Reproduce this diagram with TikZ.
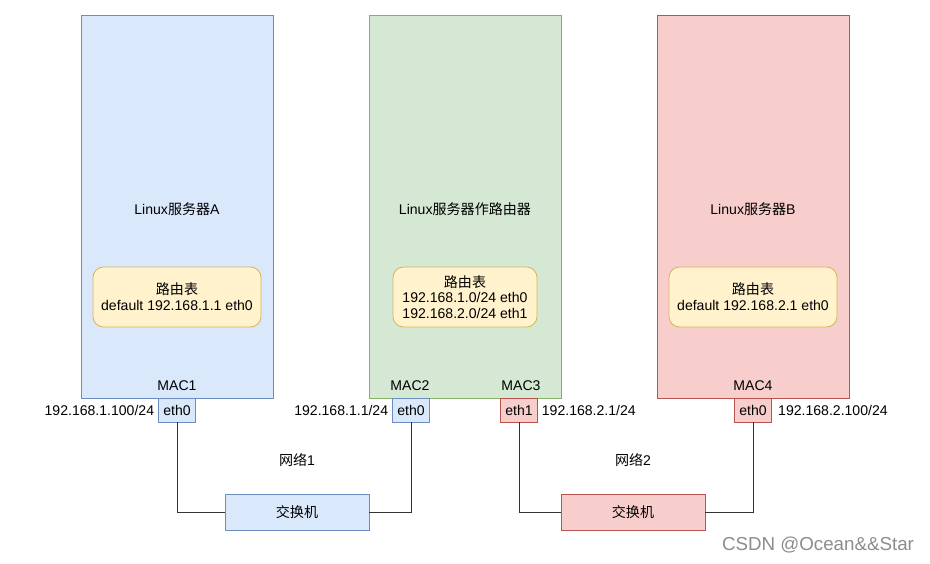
\documentclass[tikz,border=0pt]{standalone}
\usepackage{fontspec}
\setmainfont{Liberation Sans}
\newfontfamily\cjk{Noto Sans CJK SC}
\newcommand{\zh}[1]{{\cjk #1}}
\usetikzlibrary{positioning}

\definecolor{blueFill}{HTML}{DAE8FC}
\definecolor{blueLine}{HTML}{6C8EBF}
\definecolor{greenFill}{HTML}{D5E8D4}
\definecolor{greenLine}{HTML}{82B366}
\definecolor{redFill}{HTML}{F8CECC}
\definecolor{redLine}{HTML}{B85450}
\definecolor{yellowFill}{HTML}{FFF2CC}
\definecolor{yellowLine}{HTML}{D6B656}

\tikzset{
    server/.style={draw, line width=0.7pt, minimum width=5.76cm, minimum height=11.49cm},
    routetab/.style={draw=yellowLine, fill=yellowFill, line width=0.7pt, rounded corners=9pt,
        minimum height=1.8cm, align=center},
    port/.style={draw, line width=0.7pt, minimum width=1.1cm, minimum height=0.72cm, inner sep=0pt},
    switchbox/.style={draw, line width=0.7pt, minimum width=4.32cm, minimum height=1.08cm},
    wire/.style={draw=black!80, line width=0.8pt},
}

\begin{document}
\begin{tikzpicture}[x=0.03cm, y=-0.03cm, font=\fontsize{12}{13.5}\selectfont]
    \useasboundingbox (0,0) rectangle (930,564);
    %% 三台服务器
    \node[server, fill=blueFill, draw=blueLine] (srvA) at (177,206.5) {};
    \node[server, fill=greenFill, draw=greenLine] (srvR) at (465,206.5) {};
    \node[server, fill=redFill, draw=redLine] (srvB) at (753,206.5) {};
    \node (nameA) at (177,209) {Linux\zh{服务器}A};
    \node (nameR) at (465,209) {Linux\zh{服务器作路由器}};
    \node (nameB) at (753,209) {Linux\zh{服务器}B};
    % 路由表
    \node[routetab, minimum width=5.04cm] (tabA) at (177,297)
        {\zh{路由表}\\default 192.168.1.1 eth0};
    \node[routetab, minimum width=4.32cm] (tabR) at (465,297)
        {\zh{路由表}\\192.168.1.0/24 eth0\\192.168.2.0/24 eth1};
    \node[routetab, minimum width=5.04cm] (tabB) at (753,297)
        {\zh{路由表}\\default 192.168.2.1 eth0};
    % 网卡
    \node[port, fill=blueFill, draw=blueLine] (pA) at (177,410) {eth0};
    \node[port, fill=blueFill, draw=blueLine] (pR0) at (411,410) {eth0};
    \node[port, fill=redFill, draw=redLine] (pR1) at (519,410) {eth1};
    \node[port, fill=redFill, draw=redLine] (pB) at (753,410) {eth0};
    \node (macA) at (177,386) {MAC1};
    \node (macR0) at (410,386) {MAC2};
    \node (macR1) at (521,386) {MAC3};
    \node (macB) at (753,386) {MAC4};
    \node[left=0pt of pA] (ipA) {192.168.1.100/24};
    \node[left=0pt of pR0] (ipR0) {192.168.1.1/24};
    \node[right=0pt of pR1] (ipR1) {192.168.2.1/24};
    \node[right=2pt of pB] (ipB) {192.168.2.100/24};
    % 交换机
    \node[switchbox, fill=blueFill, draw=blueLine] (sw1) at (297,512) {\zh{交换机}};
    \node[switchbox, fill=redFill, draw=redLine] (sw2) at (633,512) {\zh{交换机}};
    \node (net1) at (297,460) {\zh{网络}1};
    \node (net2) at (633,460) {\zh{网络}2};
    % 连线
    \draw[wire] (pA.south) |- (sw1.west);
    \draw[wire] (sw1.east) -| (pR0.south);
    \draw[wire] (pR1.south) |- (sw2.west);
    \draw[wire] (sw2.east) -| (pB.south);
    \node[text=black!45, font=\fontsize{16}{18}\selectfont] (mark) at (818,545) {CSDN @Ocean\&\&Star};
\end{tikzpicture}
\end{document}
